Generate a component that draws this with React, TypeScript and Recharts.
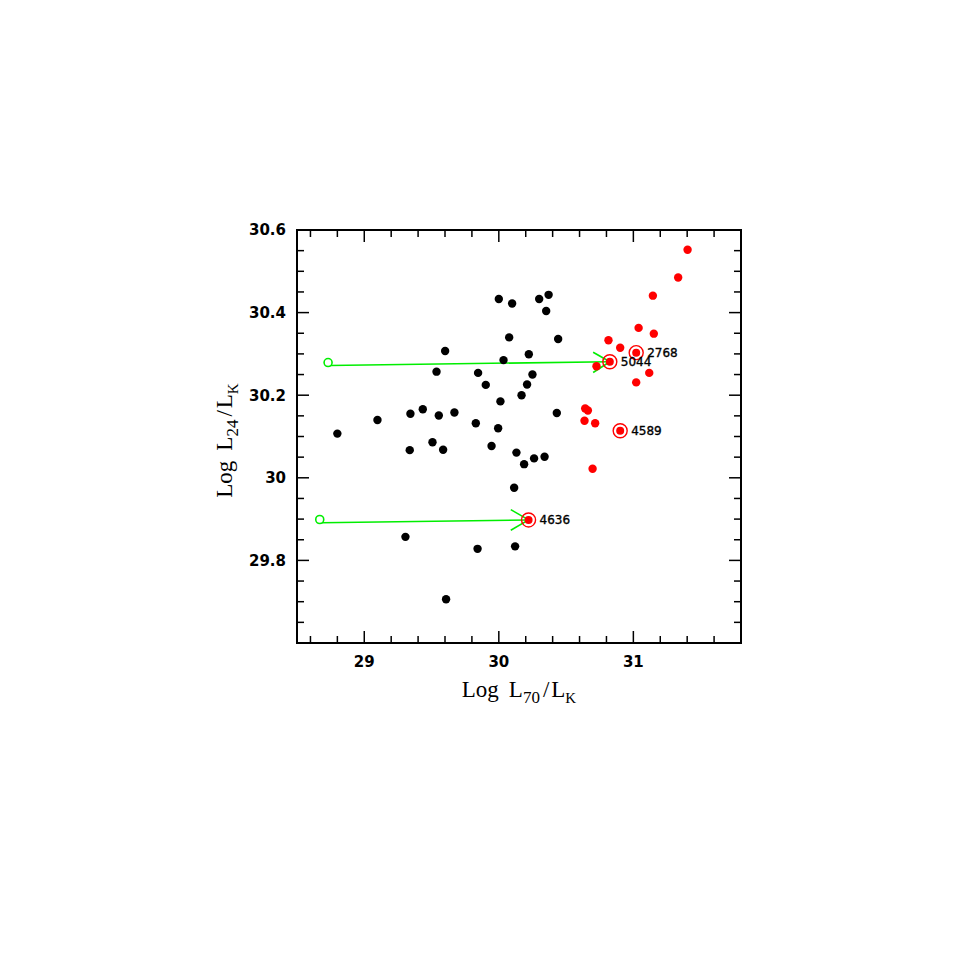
import React from 'react';
import { ScatterChart, Scatter, XAxis, YAxis, ReferenceLine, ReferenceArea, Label } from 'recharts';

// ---------- data (Log L70/LK , Log L24/LK) ----------
const blackX = [28.80, 29.098, 29.343, 29.435, 29.554, 29.67, 29.338, 29.507, 29.586, 29.537, 29.601, 29.829, 29.846, 29.903, 29.946, 29.995, 30.012, 30.0, 30.099, 30.077, 30.035, 30.223, 30.25, 30.21, 30.169, 30.30, 30.37, 30.352, 30.441, 30.431, 30.131, 30.188, 30.262, 30.34, 30.114, 29.306, 29.842, 30.121, 29.608];
const blackY = [30.107, 30.140, 30.155, 30.166, 30.151, 30.158, 30.067, 30.086, 30.068, 30.257, 30.307, 30.132, 30.254, 30.225, 30.077, 30.120, 30.185, 30.433, 30.422, 30.340, 30.285, 30.299, 30.250, 30.226, 30.200, 30.433, 30.443, 30.404, 30.336, 30.157, 30.061, 30.033, 30.047, 30.051, 29.976, 29.857, 29.828, 29.834, 29.706];

const redX = [31.403, 31.333, 31.145, 31.039, 31.152, 30.815, 30.902, 30.726, 31.118, 31.021, 30.642, 30.662, 30.637, 30.716, 30.697];
const redY = [30.552, 30.485, 30.441, 30.363, 30.349, 30.333, 30.315, 30.270, 30.254, 30.231, 30.168, 30.163, 30.138, 30.132, 30.022];

const circledNames = ['2768', '5044', '4589', '4636'];
const circledX = [31.021, 30.825, 30.902, 30.221];
const circledY = [30.303, 30.281, 30.114, 29.898];

const openX = [28.731, 28.669];
const openY = [30.279, 29.899];

// arrows: start -> tip, with two barb end points
const arrowStartX = [28.74, 28.68];
const arrowStartY = [30.272, 29.891];
const arrowTipX = [30.825, 30.221];
const arrowTipY = [30.281, 29.898];
const barbX = [30.701, 30.089];
const barbUpY = [30.304, 29.923];
const barbDownY = [30.255, 29.873];

const xMajorTicks = [29, 30, 31];
const xMinorTicks = [28.6, 28.8, 29.2, 29.4, 29.6, 29.8, 30.2, 30.4, 30.6, 30.8, 31.2, 31.4, 31.6];
const yMajorTicks = [29.8, 30, 30.2, 30.4, 30.6];
const yMinorTicks = [29.65, 29.7, 29.75, 29.85, 29.9, 29.95, 30.05, 30.1, 30.15, 30.25, 30.3, 30.35, 30.45, 30.5, 30.55];

const xDomain = [28.5, 31.8];
const yDomain = [29.6, 30.6];

// ---------- built tables ----------
const blackData = blackX.map((x, i) => ({ x, y: blackY[i] }));
const redData = redX.map((x, i) => ({ x, y: redY[i] }));
const circledData = circledX.map((x, i) => ({ x, y: circledY[i], name: circledNames[i] }));
const openData = openX.map((x, i) => ({ x, y: openY[i] }));
const xTicks = [...xMinorTicks, ...xMajorTicks].sort((a, b) => a - b);
const yTicks = [...yMinorTicks, ...yMajorTicks].sort((a, b) => a - b);

// ---------- layout ----------
const W = 960;
const H = 960;
const AXIS_SIZE = 1;
const PLOT_LEFT = 289;
const PLOT_TOP = 222;
const PLOT_W = 444;
const PLOT_H = 413;
const MARGIN = {
  top: PLOT_TOP,
  right: W - PLOT_LEFT - PLOT_W,
  bottom: H - PLOT_TOP - PLOT_H - AXIS_SIZE,
  left: PLOT_LEFT - AXIS_SIZE,
};
const GREEN = '#00ee00';
const TICK_FONT = "'DejaVu Sans', Verdana, sans-serif";
const TITLE_FONT = "'Liberation Serif', 'Times New Roman', serif";

const XTick = (props: any) => {
  const { x, y, payload } = props;
  const v = payload.value;
  const major = xMajorTicks.includes(v);
  const len = major ? 12 : 7;
  return (
    <g>
      <line x1={x} y1={y} x2={x} y2={y - len} stroke="#000" strokeWidth={1.5} />
      <line x1={x} y1={y - PLOT_H} x2={x} y2={y - PLOT_H + len} stroke="#000" strokeWidth={1.5} />
      {major && (
        <text x={x} y={y + 24} textAnchor="middle" fontFamily={TICK_FONT} fontWeight="bold" fontSize={15} fill="#000">
          {String(v)}
        </text>
      )}
    </g>
  );
};

const YTick = (props: any) => {
  const { x, y, payload } = props;
  const v = payload.value;
  const major = yMajorTicks.includes(v);
  const len = major ? 12 : 7;
  return (
    <g>
      <line x1={x} y1={y} x2={x + len} y2={y} stroke="#000" strokeWidth={1.5} />
      <line x1={x + PLOT_W} y1={y} x2={x + PLOT_W - len} y2={y} stroke="#000" strokeWidth={1.5} />
      {major && (
        <text x={x - 11} y={y} dy="0.36em" textAnchor="end" fontFamily={TICK_FONT} fontWeight="bold" fontSize={15} fill="#000">
          {String(v)}
        </text>
      )}
    </g>
  );
};

const TitleSpans = ({ sub }: { sub: string }) => (
  <>
    <tspan>Log</tspan>
    <tspan dx={10}>L</tspan>
    <tspan fontSize={17} dy={6}>{sub}</tspan>
    <tspan dy={-6} dx={3}>/</tspan>
    <tspan dx={2}>L</tspan>
    <tspan fontSize={15} dy={6}>K</tspan>
  </>
);

const XTitle = () => (
  <text x={PLOT_LEFT + PLOT_W / 2} y={PLOT_TOP + PLOT_H + 54} textAnchor="middle" fontFamily={TITLE_FONT} fontSize={23} fill="#000">
    <TitleSpans sub="70" />
  </text>
);

const YTitle = () => {
  const cx = PLOT_LEFT - 65;
  const cy = PLOT_TOP + PLOT_H / 2 + 4;
  return (
    <text x={cx} y={cy} transform={`rotate(-90 ${cx} ${cy})`} textAnchor="middle" fontFamily={TITLE_FONT} fontSize={23} fill="#000">
      <TitleSpans sub="24" />
    </text>
  );
};

const BlackDot = (p: any) => <circle cx={p.cx} cy={p.cy} r={4.2} fill="#000" />;
const RedDot = (p: any) => <circle cx={p.cx} cy={p.cy} r={4.2} fill="#ff0000" />;
const OpenGreen = (p: any) => <circle cx={p.cx} cy={p.cy} r={4} fill="#fff" stroke={GREEN} strokeWidth={1.6} />;
const CircledDot = (p: any) => {
  const name = (p.payload && p.payload.name) || p.name;
  return (
    <g>
      <circle cx={p.cx} cy={p.cy} r={7} fill="none" stroke="#ff0000" strokeWidth={1.4} />
      <circle cx={p.cx} cy={p.cy} r={4} fill="#ff0000" />
      <text x={p.cx + 11} y={p.cy} dy="0.36em" fontFamily={TICK_FONT} fontSize={12} fill="#000" stroke="#000" strokeWidth={0.35}>
        {name}
      </text>
    </g>
  );
};

export default function App() {
  return (
    <ScatterChart width={W} height={H} margin={MARGIN}>
      <XAxis
        type="number"
        dataKey="x"
        domain={xDomain}
        ticks={xTicks}
        interval={0}
        tickSize={0}
        tickMargin={0}
        tickLine={false}
        axisLine={false}
        tick={XTick}
        height={AXIS_SIZE}
        allowDataOverflow
      >
        <Label content={XTitle} />
      </XAxis>
      <YAxis
        type="number"
        dataKey="y"
        domain={yDomain}
        ticks={yTicks}
        interval={0}
        tickSize={0}
        tickMargin={0}
        tickLine={false}
        axisLine={false}
        tick={YTick}
        width={AXIS_SIZE}
        allowDataOverflow
      >
        <Label content={YTitle} />
      </YAxis>
      <ReferenceArea x1={xDomain[0]} x2={xDomain[1]} y1={yDomain[0]} y2={yDomain[1]} fill="none" fillOpacity={0} stroke="#000" strokeWidth={2} ifOverflow="visible" />
      <Scatter data={blackData} shape={BlackDot} isAnimationActive={false} />
      <Scatter data={redData} shape={RedDot} isAnimationActive={false} />
      <Scatter data={circledData} shape={CircledDot} isAnimationActive={false} />
      {arrowStartX.map((sx, i) => (
        <ReferenceLine key={`a${i}`} segment={[{ x: sx, y: arrowStartY[i] }, { x: arrowTipX[i], y: arrowTipY[i] }]} stroke={GREEN} strokeWidth={1.6} ifOverflow="visible" />
      ))}
      {arrowTipX.map((tx, i) => (
        <ReferenceLine key={`bu${i}`} segment={[{ x: barbX[i], y: barbUpY[i] }, { x: tx, y: arrowTipY[i] }]} stroke={GREEN} strokeWidth={1.6} ifOverflow="visible" />
      ))}
      {arrowTipX.map((tx, i) => (
        <ReferenceLine key={`bd${i}`} segment={[{ x: barbX[i], y: barbDownY[i] }, { x: tx, y: arrowTipY[i] }]} stroke={GREEN} strokeWidth={1.6} ifOverflow="visible" />
      ))}
      <Scatter data={openData} shape={OpenGreen} isAnimationActive={false} />
    </ScatterChart>
  );
}
